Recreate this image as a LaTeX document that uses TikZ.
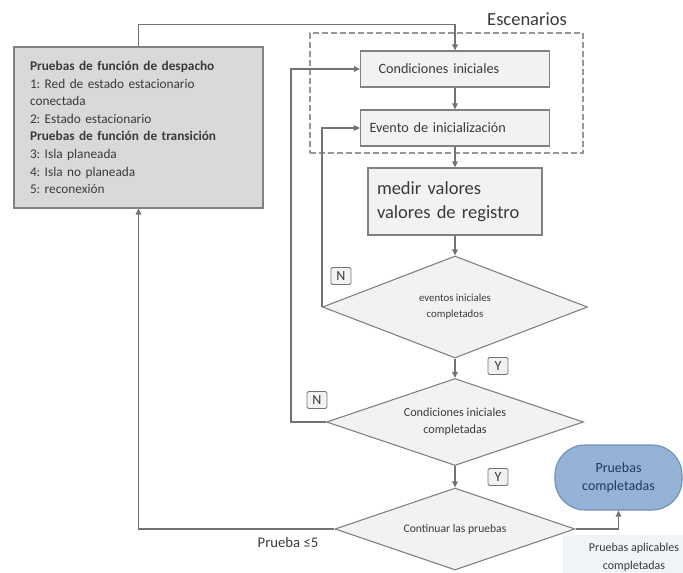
\documentclass[tikz,border=0pt]{standalone}
\usepackage{fontspec}
\setmainfont{Carlito}
\usepackage{tikz}
\usetikzlibrary{shapes.geometric,arrows.meta}
\frenchspacing
\definecolor{linegray}{HTML}{737373}
\definecolor{boxgray}{HTML}{D9D9D9}
\definecolor{boxlight}{HTML}{F2F2F2}
\definecolor{txtgray}{HTML}{3A3A3A}
\definecolor{termblue}{HTML}{95B3D7}
\definecolor{termline}{HTML}{6F8FB5}
\definecolor{termtxt}{HTML}{1F3864}
\definecolor{notebg}{HTML}{EEF4F8}
\tikzset{
  conn/.style={draw=linegray,line width=1.5pt,-{Triangle[length=6pt,width=5.5pt]}},
  stepbox/.style={draw=linegray!90,fill=boxlight,line width=1.1pt,inner sep=0pt,text=txtgray},
  decide/.style={diamond,draw=linegray!90,fill=boxlight,line width=1.1pt,inner sep=0pt,text=txtgray,align=center},
  yn/.style={draw=linegray,fill=boxlight,rounded corners=1.5pt,line width=0.9pt,minimum width=20pt,minimum height=17pt,inner sep=0pt,font=\fontsize{14}{16}\selectfont,text=txtgray}
}
\begin{document}
\begin{tikzpicture}[x=1pt,y=-1pt]
\useasboundingbox (0,0) rectangle (683,573);
\node (spec) at (138.5,127.5) [draw=linegray!90,fill=boxgray,line width=1.1pt,minimum width=249pt,minimum height=161pt,text width=217pt,align=left,inner sep=0pt,text=txtgray,font=\fontsize{13.3}{17.6}\selectfont]
  {\textbf{Pruebas de función de despacho}\\1: Red de estado estacionario\\conectada\\2: Estado estacionario\\\textbf{Pruebas de función de transición}\\3: Isla planeada\\4: Isla no planeada\\5: reconexión};
\node (scen) at (446.5,93) [draw=linegray!75,dash pattern=on 6pt off 3pt,line width=1.5pt,minimum width=273pt,minimum height=120pt] {};
\node (scenlbl) at (527,19) [text=txtgray,font=\fontsize{18.5}{20}\selectfont] {Escenarios};
\node (ci) at (455,69) [stepbox,minimum width=189pt,minimum height=36pt,text width=171pt,align=left,font=\fontsize{14.2}{16}\selectfont] {\hspace{9pt}Condiciones iniciales};
\node (ev) at (455,128) [stepbox,minimum width=189pt,minimum height=36pt,text width=171pt,align=left,font=\fontsize{14.2}{16}\selectfont] {Evento de inicialización};
\node (med) at (455,201.5) [stepbox,minimum width=174pt,minimum height=67pt,text width=156pt,align=left,font=\fontsize{18.5}{24}\selectfont] {medir valores\\valores de registro};
\node (d1) at (455,307) [decide,aspect=2.6,minimum width=265pt,minimum height=102pt,font=\fontsize{10.8}{16}\selectfont] {eventos iniciales\\completados};
\node (d2) at (455,422) [decide,aspect=2.95,minimum width=257pt,minimum height=87pt,font=\fontsize{12.2}{17}\selectfont] {Condiciones iniciales\\completadas};
\node (d3) at (455,529) [decide,aspect=2.93,minimum width=240pt,minimum height=82pt,font=\fontsize{11.6}{13}\selectfont] {Continuar las pruebas};
\node (term) at (618.5,477.5) [draw=termline,fill=termblue,line width=1.1pt,rounded corners=30pt,minimum width=127pt,minimum height=65pt,align=center,text=termtxt,font=\fontsize{14}{18}\selectfont] {Pruebas\\completadas};
\node (note) at (623,554) [fill=notebg,minimum width=120pt,minimum height=38pt,inner sep=0pt] {};
\node (notetxt) at (634,557) [align=center,text=txtgray,font=\fontsize{12}{18}\selectfont] {Pruebas aplicables\\completadas};
\node (n1) at (341,276) [yn] {N};
\node (y1) at (498,366) [yn] {Y};
\node (n2) at (317,400) [yn] {N};
\node (y2) at (498,477) [yn] {Y};
\node (prueba) at (288,542) [text=txtgray,font=\fontsize{14.7}{16}\selectfont] {Prueba ≤5};
\draw [conn] (spec.north) -- ++(0,-22) -| (ci.north);
\draw [conn] (ci.south) -- (ev.north);
\draw [conn] (ev.south) -- (med.north);
\draw [conn] (med.south) -- (d1.north);
\draw [conn] (d1.west) |- (ev.west);
\draw [conn] (d1.south) -- (d2.north);
\draw [conn] (d2.west) -- ++(-35,0) |- (ci.west);
\draw [conn] (d2.south) -- (d3.north);
\draw [conn] (d3.west) -| (spec.south);
\draw [conn] (d3.east) -| (term.south);
\end{tikzpicture}
\end{document}
